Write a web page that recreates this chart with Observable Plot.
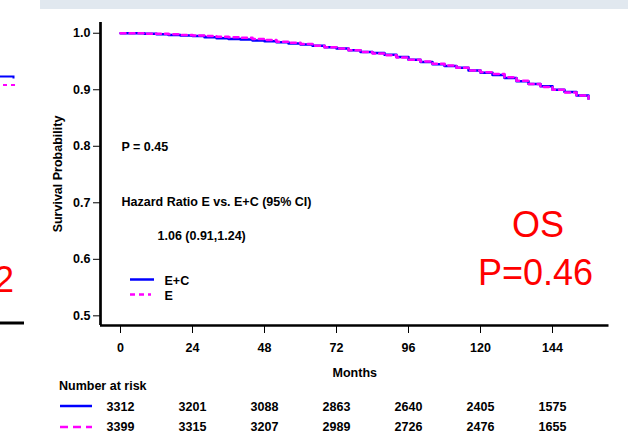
<!DOCTYPE html>
<html><head><meta charset="utf-8">
<script src="https://cdn.jsdelivr.net/npm/d3@7"></script>
<script src="https://cdn.jsdelivr.net/npm/@observablehq/plot@0.6"></script>
<style>html,body{margin:0;padding:0;background:#fff;} #chart{width:628px;height:433px;overflow:hidden;position:relative;}</style>
</head><body><div id="chart"></div>
<script>
// ---- data ----
const months = [0,4,8,12,16,20,24,28,32,36,40,44,48,52,56,60,64,68,72,76,80,84,88,92,96,100,104,108,112,116,120,124,128,132,136,140,144,148,152,156];
const survEC = [1.000,1.000,0.999,0.998,0.997,0.996,0.995,0.993,0.991,0.990,0.989,0.987,0.986,0.984,0.982,0.980,0.978,0.975,0.973,0.970,0.967,0.965,0.962,0.958,0.953,0.949,0.945,0.942,0.939,0.934,0.930,0.926,0.921,0.915,0.910,0.906,0.900,0.896,0.890,0.884];
const survE  = [1.000,1.000,0.999,0.999,0.998,0.997,0.996,0.995,0.994,0.993,0.992,0.990,0.988,0.985,0.983,0.981,0.978,0.975,0.973,0.970,0.967,0.964,0.961,0.957,0.953,0.950,0.946,0.943,0.939,0.934,0.931,0.928,0.922,0.916,0.910,0.905,0.900,0.895,0.890,0.884];
const riskTimes = [0,24,48,72,96,120,144];
const riskEC = [3312,3201,3088,2863,2640,2405,1575];
const riskE  = [3399,3315,3207,2989,2726,2476,1655];
const yTicks = [0.5,0.6,0.7,0.8,0.9,1.0];
const armNames = ["E+C","E"];
const pText = "P = 0.45";
const hrTitle = "Hazard Ratio E vs. E+C (95% CI)";
const hrValue = "1.06 (0.91,1.24)";
const bigLabels = ["OS","P=0.46"];

const xDomain = [-6.667, 162.833];
const yDomain = [0.4829, 1.019];
const FONT = "'Liberation Sans', Arial, Helvetica, sans-serif";
const BLUE = "#0000ff", MAG = "#ff00ff";

const dataEC = months.map((m,i)=>({month:m, surv:survEC[i]}));
const dataE  = months.map((m,i)=>({month:m, surv:survE[i]}));
const rowEC = riskTimes.map((t,i)=>({t, n:riskEC[i]}));
const rowE  = riskTimes.map((t,i)=>({t, n:riskE[i]}));

const txt = (s, o) => Plot.text([s], {textAnchor:"start", lineAnchor:"middle", ...o});

const plot = Plot.plot({
  width: 628, height: 433,
  marginLeft: 100, marginRight: 19.5, marginTop: 22, marginBottom: 108,
  style: {fontFamily: FONT, fontSize: "12.5px", fontWeight: "bold", color: "#000", background: "transparent", overflow: "visible"},
  x: {domain: xDomain, ticks: riskTimes, label: null, tickSize: 8, tickPadding: 10},
  y: {domain: yDomain, ticks: yTicks, tickFormat: d3.format(".1f"), label: null, tickSize: 7, tickPadding: 3},
  marks: [
    Plot.ruleY([yDomain[0]], {stroke: "#000", strokeWidth: 2.7}),
    Plot.ruleX([xDomain[0]], {stroke: "#000", strokeWidth: 2.7}),
    Plot.line(dataEC, {x: "month", y: "surv", curve: "step-after", stroke: BLUE, strokeWidth: 2.5}),
    Plot.line(dataE, {x: "month", y: "surv", curve: "step-after", stroke: MAG, strokeWidth: 2.5, strokeDasharray: "5,4"}),
    txt(pText, {frameAnchor: "top-left", dx: 21, dy: 124}),
    txt(hrTitle, {frameAnchor: "top-left", dx: 21, dy: 179}),
    txt(hrValue, {frameAnchor: "top-left", dx: 57, dy: 213.5}),
    txt(armNames[0], {frameAnchor: "top-left", dx: 64, dy: 258}),
    txt(armNames[1], {frameAnchor: "top-left", dx: 64, dy: 273}),
    Plot.text(["Months"], {frameAnchor: "bottom", dy: 47, lineAnchor: "middle"}),
    Plot.text(["Survival Probability"], {frameAnchor: "left", dx: -43, rotate: -90, textAnchor: "middle", lineAnchor: "middle"}),
    txt("Number at risk", {frameAnchor: "bottom-left", dx: -41.5, dy: 60}),
    Plot.text(rowEC, {x: "t", text: d => String(d.n), frameAnchor: "bottom", dy: 81.5, textAnchor: "middle", lineAnchor: "middle"}),
    Plot.text(rowE, {x: "t", text: d => String(d.n), frameAnchor: "bottom", dy: 101.5, textAnchor: "middle", lineAnchor: "middle"}),
    Plot.text([bigLabels[0]], {frameAnchor: "top-left", dx: 437.5, dy: 203, fill: "#ff0000", fontSize: 36, fontWeight: "normal", textAnchor: "middle", lineAnchor: "middle"}),
    Plot.text([bigLabels[1]], {frameAnchor: "top-left", dx: 435, dy: 251, fill: "#ff0000", fontSize: 36, fontWeight: "normal", textAnchor: "middle", lineAnchor: "middle"})
  ]
});

document.getElementById("chart").appendChild(plot);
const svg = d3.select(plot);
// slide background bar at top
svg.insert("rect", ":first-child").attr("x", 40).attr("y", 0).attr("width", 588).attr("height", 9).attr("fill", "#e1e8ef");
// cropped neighbouring chart fragments at left edge
const frag = svg.append("g");
frag.append("path").attr("d", "M0,76.5H13.5V78.5").attr("fill", "none").attr("stroke", BLUE).attr("stroke-width", 2);
frag.append("path").attr("d", "M3,85H14V88").attr("fill", "none").attr("stroke", MAG).attr("stroke-width", 2).attr("stroke-dasharray", "4,4");
frag.append("text").attr("x", 14).attr("y", 292).attr("text-anchor", "end").attr("fill", "#ff0000").attr("font-size", 36).attr("font-weight", "normal").text("2");
frag.append("line").attr("x1", 0).attr("x2", 24).attr("y1", 323).attr("y2", 323).attr("stroke", "#000").attr("stroke-width", 3);
// legend swatches inside the plot
const sw = svg.append("g").attr("fill", "none").attr("stroke-width", 2.5);
sw.append("line").attr("x1", 130).attr("x2", 154).attr("y1", 279.5).attr("y2", 279.5).attr("stroke", BLUE);
sw.append("line").attr("x1", 130).attr("x2", 151).attr("y1", 294.5).attr("y2", 294.5).attr("stroke", MAG).attr("stroke-dasharray", "5,4");
// number-at-risk swatches
sw.append("line").attr("x1", 60).attr("x2", 92).attr("y1", 406).attr("y2", 406).attr("stroke", BLUE);
sw.append("line").attr("x1", 60).attr("x2", 92).attr("y1", 427).attr("y2", 427).attr("stroke", MAG).attr("stroke-dasharray", "8,5");
</script>
</body></html>
